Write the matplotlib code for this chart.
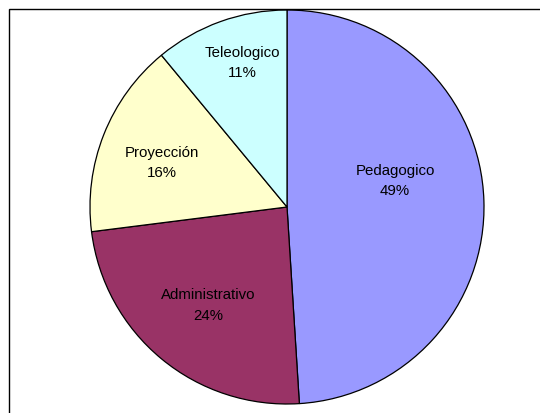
import matplotlib.pyplot as plt
from matplotlib.patches import Rectangle

categories = ["Pedagogico", "Administrativo", "Proyección", "Teleologico"]
values = [49, 24, 16, 11]
colors = ["#9999FF", "#993366", "#FFFFCC", "#CCFFFF"]

# label centres relative to pie centre, in radius units (Excel-like placement)
label_pos = [(0.548, 0.132), (-0.398, -0.500), (-0.635, 0.221), (-0.228, 0.733)]

plt.rcParams['font.family'] = ['Liberation Sans', 'DejaVu Sans']

W, H = 540, 413
fig = plt.figure(figsize=(W / 100, H / 100), dpi=100)

# chart area border (runs off the right and bottom edges)
fig.patches.append(Rectangle((8.5 / W, -0.1), 1.2, (H - 9) / H + 0.1,
                             transform=fig.transFigure, fill=False,
                             edgecolor="black", linewidth=1.0))

cx, cy, r = 287, 207, 197
ax = fig.add_axes([(cx - r) / W, (H - cy - r) / H, 2 * r / W, 2 * r / H])
ax.pie(values, colors=colors, startangle=90, counterclock=False,
       wedgeprops=dict(edgecolor="black", linewidth=0.9))
ax.set_xlim(-1, 1)
ax.set_ylim(-1, 1)
ax.set_aspect("equal")
ax.axis("off")

for name, v, (x, y) in zip(categories, values, label_pos):
    ax.text(x, y, f"{name}\n{v}%", ha="center", va="center",
            fontsize=10.8, linespacing=1.55)

fig.savefig("out.png", dpi=100)
